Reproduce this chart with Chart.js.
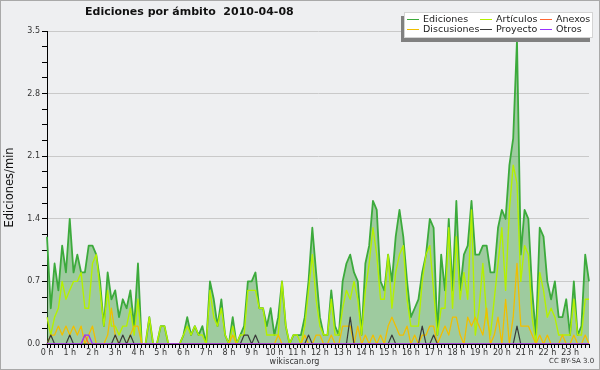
<!DOCTYPE html>
<html>
<head>
<meta charset="utf-8">
<script src="https://cdn.jsdelivr.net/npm/chart.js@4.4.1/dist/chart.umd.min.js"></script>
<style>
html,body{margin:0;padding:0;background:#eeeff1;}
#wrap{position:relative;width:600px;height:370px;background:#eeeff1;overflow:hidden;font-family:'DejaVu Sans',sans-serif;}
#frame{position:absolute;left:0;top:0;width:600px;height:370px;box-sizing:border-box;border:1px solid #a9a9a9;pointer-events:none;}
#title{position:absolute;left:85px;top:5px;font-weight:bold;font-size:11px;color:#111;white-space:pre;}
#legend{position:absolute;left:404px;top:12px;width:187px;height:24px;background:#fff;border:1px solid #d4d4d4;box-shadow:-3px 4px 0 #808080;}
.item{position:absolute;font-size:9.5px;color:#222;white-space:nowrap;line-height:10px;}
.item i{display:inline-block;width:12px;height:1px;vertical-align:middle;margin-right:4px;}
#cc{position:absolute;left:549px;top:357px;font-size:7px;color:#333;}
canvas{position:absolute;left:0;top:0;}
</style>
</head>
<body>
<div id="wrap">
<canvas id="c" width="600" height="370"></canvas>
<div id="title">Ediciones por ámbito  2010-04-08</div>
<div id="legend"></div>
<div id="cc">CC BY-SA 3.0</div>
<div id="frame"></div>
</div>
<script>
// ---- data (edits per minute, 10-minute buckets) ----
const times = [];
for (let h = 0; h < 24; h++) for (let m = 0; m < 60; m += 10) times.push(String(h).padStart(2,'0') + ':' + String(m).padStart(2,'0'));
const hourLabels = ['0 h','1 h','2 h','3 h','4 h','5 h','6 h','7 h','8 h','9 h','10 h','11 h','12 h','13 h','14 h','15 h','16 h','17 h','18 h','19 h','20 h','21 h','22 h','23 h'];
const yTickLabels = [0.0, 0.7, 1.4, 2.1, 2.8, 3.5];

const ediciones = [
 1.2,0.4,0.9,0.6,1.1,0.8, 1.4,0.8,1.0,0.8,0.8,1.1, 1.1,1.0,0.7,0.2,0.8,0.5, 0.6,0.3,0.5,0.4,0.6,0.2,
 0.9,0,0,0.3,0,0, 0.2,0.2,0,0,0,0, 0.1,0.3,0.1,0.2,0.1,0.2, 0,0.7,0.5,0.2,0.5,0.1,
 0,0.3,0,0.1,0.2,0.7, 0.7,0.8,0.4,0.4,0.2,0.4, 0.1,0.3,0.7,0.2,0,0.1, 0.1,0.1,0.3,0.7,1.3,0.8,
 0.3,0.1,0.1,0.6,0.2,0.1, 0.7,0.9,1.0,0.8,0.7,0.1, 0.9,1.1,1.6,1.5,0.7,0.6, 1.0,0.7,1.2,1.5,1.2,0.7,
 0.3,0.4,0.5,0.8,1.0,1.4, 1.3,0.1,1.0,0.6,1.4,0.6, 1.6,0.6,1.0,1.1,1.6,1.0, 1.0,1.1,1.1,0.8,0.8,1.3,
 1.5,1.4,2.0,2.3,3.4,1.0, 1.5,1.4,0.6,0.1,1.3,1.2, 0.7,0.5,0.7,0.3,0.3,0.5, 0.1,0.7,0.1,0.2,1.0,0.7
];
const articulos = [
 0.3,0.1,0.3,0.4,0.7,0.5, 0.6,0.7,0.7,0.8,0.4,0.4, 0.9,1.0,0.6,0.2,0.6,0.2, 0.2,0.1,0.2,0.2,0.4,0.1,
 0.5,0,0,0.3,0,0, 0.2,0.2,0,0,0,0, 0.1,0.2,0.1,0.2,0.1,0.1, 0,0.6,0.3,0.2,0.4,0.1,
 0,0.2,0,0.1,0.1,0.6, 0.6,0.6,0.4,0.4,0.1,0.1, 0.1,0.1,0.7,0.2,0,0.1, 0.1,0,0.2,0.6,1.0,0.5,
 0.2,0.1,0.1,0.5,0.1,0.1, 0.4,0.6,0.5,0.7,0.5,0.1, 0.6,0.9,1.3,1.0,0.5,0.5, 1.0,0.4,0.8,1.0,1.1,0.5,
 0.2,0.2,0.2,0.7,1.0,1.1, 0.6,0.1,0.4,0.4,1.3,0.4, 1.2,0.5,0.8,0.5,1.5,0.1, 0.4,0.9,0.3,0.1,0.5,0.9,
 1.3,0.6,1.5,2.0,1.8,0.7, 1.1,1.0,0.3,0,0.8,0.6, 0.3,0.4,0.3,0.1,0.1,0.1, 0.1,0.5,0.1,0.1,0.5,0.5
];
const discusiones = [
 0,0.1,0.1,0.2,0.1,0.2, 0.1,0.2,0.1,0.2,0,0.1, 0.2,0,0,0,0.1,0.4, 0.1,0,0,0,0.1,0.2,
 0.2,0,0,0,0,0, 0,0,0,0,0,0, 0,0,0,0,0,0, 0,0,0,0,0,0,
 0,0.1,0,0,0,0, 0,0,0,0,0,0, 0,0.1,0,0,0,0, 0,0,0.1,0,0,0.1,
 0.1,0,0,0.1,0,0, 0.2,0.2,0.2,0,0.2,0, 0.1,0,0.1,0,0.1,0, 0.2,0.3,0.2,0.1,0.1,0.2,
 0,0.1,0,0.1,0.1,0.2, 0.2,0,0.1,0.2,0.1,0.3, 0.3,0.1,0,0.3,0.2,0.3, 0.2,0.1,0.4,0,0.1,0.3,
 0,0.5,0,0.3,0.9,0.2, 0.2,0.2,0.1,0,0.1,0, 0.1,0,0,0,0.1,0, 0,0.1,0,0,0.1,0
];
const proyecto = [
 0,0.1,0,0,0,0, 0.1,0,0,0,0,0, 0,0,0,0,0,0, 0.1,0,0.1,0,0.1,0,
 0,0,0,0,0,0, 0,0,0,0,0,0, 0,0,0,0,0,0, 0,0,0,0,0,0,
 0,0,0,0,0.1,0.1, 0,0.1,0,0,0,0, 0,0,0,0,0,0, 0,0,0,0.1,0,0,
 0,0,0,0,0,0, 0,0,0.3,0,0,0, 0,0,0,0,0,0, 0,0.1,0,0,0,0,
 0,0,0,0.2,0,0, 0.1,0,0,0,0,0, 0,0,0,0,0,0, 0,0,0,0,0,0,
 0,0,0,0,0.2,0, 0,0,0,0,0,0, 0,0,0,0,0,0, 0,0,0,0,0,0
];
const anexos = [
 0,0,0,0,0,0, 0,0,0,0,0.1,0, 0,0,0,0,0,0, 0,0,0,0,0,0,
 0,0,0,0,0,0, 0,0,0,0,0,0, 0,0,0,0,0,0, 0,0,0,0,0,0,
 0,0,0,0,0,0, 0,0,0,0,0,0, 0,0,0,0,0,0, 0,0,0,0,0,0,
 0,0,0,0,0,0, 0,0,0,0,0,0, 0,0,0,0,0,0, 0,0,0,0,0,0,
 0,0,0,0,0,0, 0,0,0,0,0,0, 0,0,0,0,0,0, 0,0,0,0,0,0,
 0,0,0,0,0,0, 0,0,0,0,0,0, 0,0,0,0,0,0, 0,0,0,0,0,0
];
const otros = [
 0,0,0,0,0,0, 0,0,0,0,0.1,0.1, 0,0,0,0,0,0, 0,0,0,0,0,0,
 0,0,0,0,0,0, 0,0,0,0,0,0, 0,0,0,0,0,0, 0,0,0,0,0,0,
 0,0,0,0,0,0, 0,0,0,0,0,0, 0,0,0,0,0,0, 0,0,0,0,0,0,
 0,0,0,0,0,0, 0,0,0,0,0,0, 0,0,0,0,0,0, 0,0,0,0,0,0,
 0,0,0,0,0,0, 0,0,0,0,0,0, 0,0,0,0,0,0, 0,0,0,0,0,0,
 0,0,0,0,0,0, 0,0,0,0,0,0, 0,0,0,0,0,0, 0,0,0,0,0,0
];
const seriesNames = ['Ediciones','Artículos','Anexos','Discusiones','Proyecto','Otros'];

// ---- styles ----
const colors = {
  'Ediciones':'#3caa3c','Artículos':'#b4f000','Anexos':'#ff6633',
  'Discusiones':'#f0be00','Proyecto':'#3a3a3a','Otros':'#9933ff'
};
const legendPos = [[2,0.5],[75,0.5],[135,0.5],[2,11],[75,10.5],[135,11]];
const lg = document.getElementById('legend');
seriesNames.forEach((n,i)=>{
  const d = document.createElement('div');
  d.className = 'item';
  d.style.left = legendPos[i][0] + 'px';
  d.style.top = legendPos[i][1] + 'px';
  const sw = document.createElement('i');
  sw.style.background = colors[n];
  d.appendChild(sw);
  d.appendChild(document.createTextNode(n));
  lg.appendChild(d);
});

const isMajor = v => yTickLabels.some(t => Math.abs(t - v) < 1e-6);
const lineDs = (label, data, width, order, extra) => Object.assign({
  label, data, borderColor: colors[label], borderWidth: width, pointRadius: 0,
  tension: 0, fill: false, order, borderJoinStyle: 'round'
}, extra || {});

new Chart(document.getElementById('c'), {
  type: 'line',
  data: {
    labels: times,
    datasets: [
      lineDs('Ediciones', ediciones, 1.8, 6, {fill: 'origin', backgroundColor: 'rgba(60,160,60,0.45)'}),
      lineDs('Artículos', articulos, 1.4, 5),
      lineDs('Discusiones', discusiones, 1.3, 4),
      lineDs('Proyecto', proyecto, 1.2, 3),
      lineDs('Anexos', anexos, 1.2, 2),
      lineDs('Otros', otros, 1.3, 1)
    ]
  },
  options: {
    responsive: false,
    animation: false,
    layout: {padding: {top: 31, right: 11, left: 0, bottom: 0}},
    plugins: {
      legend: {display: false},
      tooltip: {enabled: false},
      title: {
        display: true, position: 'bottom', text: 'wikiscan.org',
        color: '#333', font: {family: 'DejaVu Sans', size: 8, weight: 'normal', lineHeight: 1.2},
        padding: {top: 0, bottom: 3}
      }
    },
    scales: {
      x: {
        type: 'category',
        offset: false,
        z: 1,
        border: {display: true, color: '#000', width: 1},
        grid: {display: true, drawOnChartArea: false, drawTicks: true, tickLength: 4, tickColor: '#000', offset: false},
        ticks: {
          autoSkip: false, maxRotation: 0, minRotation: 0, padding: 0,
          color: '#333', font: {family: 'DejaVu Sans', size: 8},
          callback: (v, i) => (i % 6 === 0 ? hourLabels[i / 6] : '')
        },
        afterFit: s => { s.height = 13.4; }
      },
      y: {
        type: 'linear', min: 0, max: 3.5,
        border: {display: true, color: '#000', width: 1},
        grid: {
          color: ctx => (ctx.tick && isMajor(ctx.tick.value) ? '#c9c9c9' : 'rgba(0,0,0,0)'),
          tickColor: '#000', tickLength: 5, lineWidth: 1
        },
        ticks: {
          stepSize: 0.175, autoSkip: false, padding: 2,
          color: '#333', font: {family: 'DejaVu Sans', size: 8},
          callback: v => (isMajor(v) ? yTickLabels.find(t => Math.abs(t - v) < 1e-6).toFixed(1) : '')
        },
        title: {
          display: true, text: 'Ediciones/min', color: '#111',
          font: {family: 'DejaVu Sans', size: 11.5}, padding: {top: 3, bottom: 0}
        },
        afterFit: s => { s.width = 47; }
      }
    }
  }
});
</script>
</body>
</html>
